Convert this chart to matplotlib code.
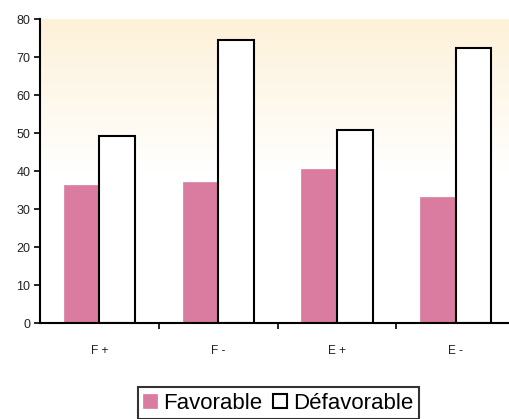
import numpy as np
import matplotlib
matplotlib.use("Agg")
import matplotlib.pyplot as plt
from matplotlib.colors import LinearSegmentedColormap

categories = ["F +", "F -", "E +", "E -"]
favorable = [36.4, 37.2, 40.6, 33.2]
defavorable = [49.1, 74.4, 50.7, 72.3]
series_names = ["Favorable", "Défavorable"]
yticks = [0, 10, 20, 30, 40, 50, 60, 70, 80]

plt.rcParams['font.family'] = ['Liberation Sans', 'DejaVu Sans']

fig = plt.figure(figsize=(5.09, 4.19), dpi=100)
ax = fig.add_axes([40/509, 96/419, 475/509, 304/419])

x = np.arange(len(categories))
w = 0.30

# gradient background
grad = np.linspace(0, 1, 256).reshape(-1, 1)
cmap = LinearSegmentedColormap.from_list("bg", ["#ffffff", "#ffffff", "#fdf1d8"], N=256)
ax.imshow(grad, extent=(-0.5, 3.5, 0, 80), origin="lower", aspect="auto",
          cmap=cmap, zorder=0)

ax.bar(x - w/2, favorable, w, color="#d97ca0", edgecolor="#d97ca0",
       linewidth=0.5, zorder=2, label=series_names[0])
ax.bar(x + w/2, defavorable, w, color="white", edgecolor="black",
       linewidth=1.5, zorder=2, label=series_names[1])

ax.set_xlim(-0.5, 3.5)
ax.set_ylim(0, 80)
ax.set_yticks(yticks)
ax.set_yticklabels([str(v) for v in yticks], fontsize=9, color="#222222")
ax.tick_params(axis='y', length=4, width=1.2, pad=3)

ax.set_xticks(x)
ax.set_xticklabels(categories, fontsize=8.5, color="#222222")
ax.tick_params(axis='x', which='major', length=0, pad=16)
ax.set_xticks([0.5, 1.5, 2.5], minor=True)
ax.tick_params(axis='x', which='minor', length=4, width=1.2, direction='out')

for s in ['top', 'right']:
    ax.spines[s].set_visible(False)
for s in ['left', 'bottom']:
    ax.spines[s].set_linewidth(1.5)
    ax.spines[s].set_zorder(3)

leg = fig.legend(loc='upper center', bbox_to_anchor=(278.5/509, 1 - 387/419),
                 ncol=2, fontsize=16, frameon=True, fancybox=False,
                 handlelength=0.6, handleheight=0.6, handletextpad=0.3,
                 columnspacing=0.5, borderpad=0.25, borderaxespad=0)
leg.get_frame().set_edgecolor('black')
leg.get_frame().set_linewidth(1.5)

fig.savefig("out.png", dpi=100)
